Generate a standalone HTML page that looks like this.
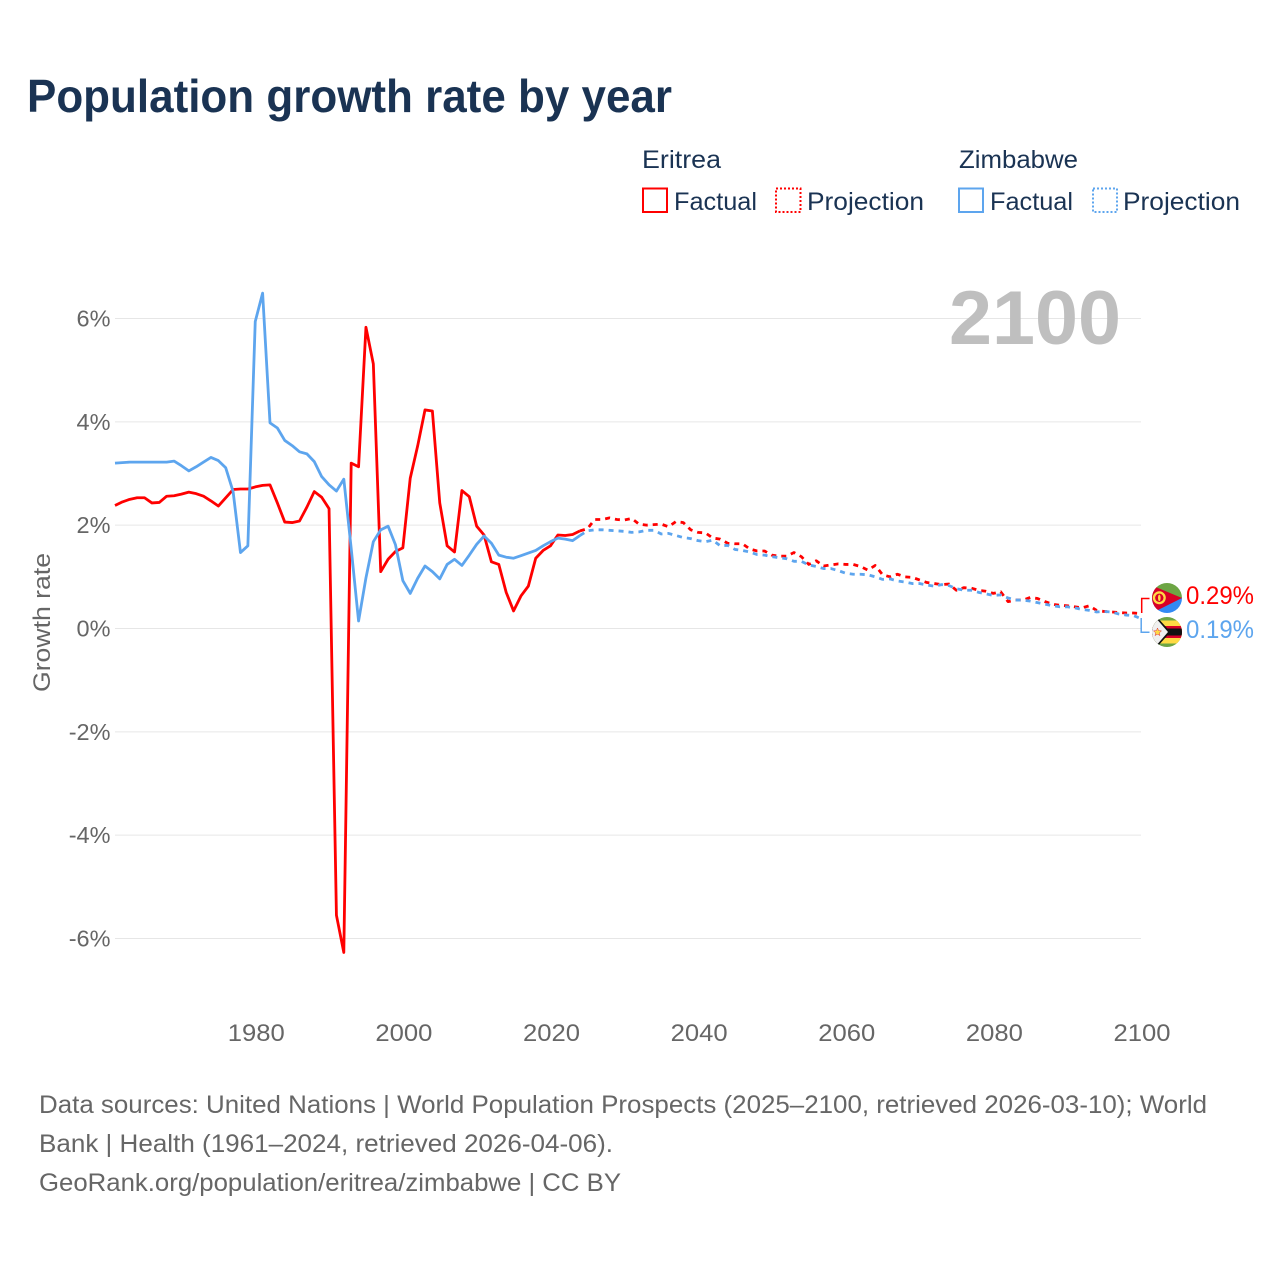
<!DOCTYPE html>
<html lang="en">
<head>
<meta charset="utf-8">
<title>Population growth rate by year</title>
<style>
html,body{margin:0;padding:0;background:#fff;width:1280px;height:1280px;overflow:hidden}
svg{display:block}
text{font-family:"Liberation Sans",sans-serif}
</style>
</head>
<body>
<svg id="chart" xmlns="http://www.w3.org/2000/svg" width="1280" height="1280" viewBox="0 0 1280 1280">
  <defs>
    <clipPath id="flag-clip-er"><circle cx="1167" cy="598" r="15"/></clipPath>
    <clipPath id="flag-clip-zw"><circle cx="1167" cy="632" r="15"/></clipPath>
  </defs>
  <text x="27" y="112" font-size="46" font-weight="700" fill="#1a3353" textLength="645" lengthAdjust="spacingAndGlyphs">Population growth rate by year</text>

  <g fill="#1a3353" font-size="25">
    <text x="642" y="168" textLength="79" lengthAdjust="spacingAndGlyphs">Eritrea</text>
    <text x="959" y="168" textLength="119" lengthAdjust="spacingAndGlyphs">Zimbabwe</text>
    <rect x="643" y="188.5" width="24" height="23.5" fill="none" stroke="#ff0000" stroke-width="2"/>
    <text x="674" y="210" textLength="83" lengthAdjust="spacingAndGlyphs">Factual</text>
    <rect x="776" y="188.5" width="24.5" height="23.5" fill="none" stroke="#ff0000" stroke-width="2" stroke-dasharray="2 2"/>
    <text x="807" y="210" textLength="117" lengthAdjust="spacingAndGlyphs">Projection</text>
    <rect x="959" y="188.5" width="24" height="23.5" fill="none" stroke="#5da5ee" stroke-width="2"/>
    <text x="990" y="210" textLength="83" lengthAdjust="spacingAndGlyphs">Factual</text>
    <rect x="1093" y="188.5" width="24" height="23.5" fill="none" stroke="#5da5ee" stroke-width="2" stroke-dasharray="2 2"/>
    <text x="1123" y="210" textLength="117" lengthAdjust="spacingAndGlyphs">Projection</text>
  </g>

  <g id="grid"></g>
  <g id="y-ticks"></g>
  <g id="x-ticks"></g>

  <text transform="translate(50,692) rotate(-90)" font-size="24" fill="#666666" textLength="139" lengthAdjust="spacingAndGlyphs">Growth rate</text>

  <text x="949" y="344" font-size="76" font-weight="700" fill="#bfbfbf" textLength="172" lengthAdjust="spacingAndGlyphs">2100</text>

  <g id="series"></g>

  <g fill="none" stroke-width="1.5">
    <path d="M1149.5 598.5H1141.7V613" stroke="#ff0000"/>
    <path d="M1141.2 618V632.2H1149.5" stroke="#5da5ee"/>
  </g>

  <g clip-path="url(#flag-clip-er)">
    <rect x="1152" y="583" width="30" height="15.5" fill="#6da544"/>
    <rect x="1152" y="598" width="30" height="15" fill="#338af3"/>
    <polygon points="1152,585.5 1182,598 1154,612 1152,610" fill="#d80027"/>
    <circle cx="1159.3" cy="597.8" r="6.5" fill="#ffda44"/>
    <circle cx="1159.3" cy="597.8" r="4.2" fill="#d80027"/>
    <ellipse cx="1159.3" cy="597.8" rx="1.3" ry="3.2" fill="#ffda44"/>
  </g>
  <g clip-path="url(#flag-clip-zw)">
    <rect x="1152" y="617" width="30" height="30" fill="#6da544"/>
    <rect x="1152" y="620.5" width="30" height="23" fill="#ffda44"/>
    <rect x="1152" y="626" width="30" height="12" fill="#d80027"/>
    <rect x="1152" y="628.5" width="30" height="7" fill="#111111"/>
    <polygon points="1152,617 1157,617 1170.5,632 1157,647 1152,647" fill="#111111"/>
    <polygon points="1152,617 1155,617 1168,632 1155,647 1152,647" fill="#f0f0f0"/>
    <polygon points="1157.5,628 1158.6,630.6 1161.5,630.9 1159.3,632.8 1160,635.6 1157.5,634.1 1155,635.6 1155.7,632.8 1153.5,630.9 1156.4,630.6" fill="#ffda44" stroke="#d80027" stroke-width=".4"/>
  </g>

  <text x="1186" y="604" font-size="25" fill="#ff0000" textLength="68" lengthAdjust="spacingAndGlyphs">0.29%</text>
  <text x="1186" y="638" font-size="25" fill="#5da5ee" textLength="68" lengthAdjust="spacingAndGlyphs">0.19%</text>

  <g font-size="25" fill="#666666">
    <text x="39" y="1113" textLength="1168" lengthAdjust="spacingAndGlyphs">Data sources: United Nations | World Population Prospects (2025–2100, retrieved 2026-03-10); World</text>
    <text x="39" y="1152" textLength="574" lengthAdjust="spacingAndGlyphs">Bank | Health (1961–2024, retrieved 2026-04-06).</text>
    <text x="39" y="1191" textLength="582" lengthAdjust="spacingAndGlyphs">GeoRank.org/population/eritrea/zimbabwe | CC BY</text>
  </g>
</svg>
<script>
const yTickValues = [6, 4, 2, 0, -2, -4, -6];
const xTickYears = [1980, 2000, 2020, 2040, 2060, 2080, 2100];
const factualStartYear = 1961;
const projectionStartYear = 2024;
const eritreaFactual = [2.38,2.45,2.50,2.53,2.53,2.43,2.44,2.56,2.57,2.60,2.64,2.61,2.56,2.47,2.37,2.53,2.69,2.70,2.70,2.74,2.77,2.78,2.43,2.06,2.05,2.08,2.35,2.65,2.54,2.32,-5.55,-6.27,3.20,3.13,5.83,5.12,1.10,1.34,1.49,1.56,2.91,3.53,4.23,4.21,2.43,1.60,1.48,2.67,2.55,1.98,1.81,1.29,1.24,0.70,0.34,0.63,0.82,1.36,1.51,1.60,1.81,1.80,1.82,1.89];
const zimbabweFactual = [3.20,3.21,3.22,3.22,3.22,3.22,3.22,3.22,3.24,3.15,3.05,3.13,3.22,3.31,3.25,3.11,2.65,1.47,1.60,5.94,6.49,3.98,3.88,3.64,3.54,3.42,3.38,3.23,2.94,2.78,2.66,2.89,1.55,0.145,0.98,1.68,1.91,1.98,1.62,0.925,0.68,0.97,1.21,1.10,0.96,1.24,1.34,1.22,1.42,1.63,1.79,1.65,1.42,1.38,1.36,1.41,1.46,1.51,1.60,1.68,1.75,1.73,1.70,1.80];
const eritreaProjection = [1.89,1.93,2.11,2.11,2.14,2.11,2.10,2.13,2.02,2.00,2.01,2.02,1.97,2.07,2.05,1.91,1.86,1.85,1.75,1.73,1.65,1.64,1.64,1.54,1.50,1.50,1.42,1.40,1.40,1.47,1.39,1.24,1.31,1.21,1.23,1.25,1.24,1.24,1.20,1.13,1.22,1.04,1.00,1.05,1.00,0.99,0.94,0.89,0.87,0.85,0.86,0.74,0.79,0.78,0.74,0.72,0.68,0.71,0.52,0.55,0.55,0.60,0.58,0.52,0.47,0.45,0.44,0.42,0.40,0.44,0.35,0.33,0.32,0.31,0.30,0.30,0.29];
const zimbabweProjection = [1.80,1.89,1.91,1.91,1.90,1.89,1.88,1.86,1.87,1.90,1.90,1.83,1.84,1.80,1.76,1.74,1.70,1.68,1.71,1.60,1.61,1.53,1.51,1.48,1.43,1.42,1.39,1.37,1.35,1.30,1.30,1.23,1.20,1.16,1.16,1.12,1.07,1.05,1.05,1.04,1.00,0.95,0.96,0.92,0.90,0.87,0.87,0.84,0.82,0.85,0.83,0.77,0.74,0.74,0.70,0.67,0.64,0.65,0.59,0.55,0.55,0.53,0.50,0.47,0.44,0.42,0.42,0.40,0.37,0.35,0.32,0.33,0.32,0.28,0.26,0.25,0.19];

const SVG_NS = 'http://www.w3.org/2000/svg';
function xScale(year) { return 115 + (year - 1961) * 7.381; }
function yScale(value) { return 628.5 - value * 51.67; }
function tickText(value) { return value + '%'; }
function pathFor(values, startYear) {
  return values.map(function (v, i) {
    return (i ? 'L' : 'M') + xScale(startYear + i).toFixed(2) + ' ' + yScale(v).toFixed(2);
  }).join('');
}

const gridGroup = document.getElementById('grid');
const yTickGroup = document.getElementById('y-ticks');
yTickValues.forEach(function (v) {
  const line = document.createElementNS(SVG_NS, 'line');
  
  
  line.setAttribute('x1', xScale(1961));
  line.setAttribute('x2', xScale(2100));
  line.setAttribute('y1', yScale(v));
  line.setAttribute('y2', yScale(v));
  line.setAttribute('stroke', '#e6e6e6');
  line.setAttribute('stroke-width', '1');
  gridGroup.appendChild(line);

  const label = document.createElementNS(SVG_NS, 'text');
  
  
  label.setAttribute('x', 110.5);
  label.setAttribute('y', yScale(v) + 8);
  label.setAttribute('text-anchor', 'end');
  label.setAttribute('font-size', '23.5');
  label.setAttribute('fill', '#666666');
  label.textContent = tickText(v);
  yTickGroup.appendChild(label);
});

const xTickGroup = document.getElementById('x-ticks');
xTickYears.forEach(function (year) {
  const label = document.createElementNS(SVG_NS, 'text');
  
  
  label.setAttribute('x', xScale(year) + 1);
  label.setAttribute('y', 1041);
  label.setAttribute('text-anchor', 'middle');
  label.setAttribute('font-size', '24');
  label.setAttribute('fill', '#666666');
  label.setAttribute('textLength', '57');
  label.setAttribute('lengthAdjust', 'spacingAndGlyphs');
  label.textContent = year;
  xTickGroup.appendChild(label);
});

const seriesGroup = document.getElementById('series');
function drawSeries(values, startYear, color, dashed, name) {
  const path = document.createElementNS(SVG_NS, 'path');
  
  
  path.setAttribute('d', pathFor(values, startYear));
  path.setAttribute('fill', 'none');
  path.setAttribute('stroke', color);
  path.setAttribute('stroke-width', '2.8');
  path.setAttribute('stroke-linejoin', 'round');
  if (dashed) path.setAttribute('stroke-dasharray', '5 5');
  seriesGroup.appendChild(path);
}
drawSeries(eritreaFactual, factualStartYear, '#ff0000', false, 'line-eritrea-factual');
drawSeries(eritreaProjection, projectionStartYear, '#ff0000', true, 'line-eritrea-projection');
drawSeries(zimbabweFactual, factualStartYear, '#5da5ee', false, 'line-zimbabwe-factual');
drawSeries(zimbabweProjection, projectionStartYear, '#5da5ee', true, 'line-zimbabwe-projection');
</script>
</body>
</html>
